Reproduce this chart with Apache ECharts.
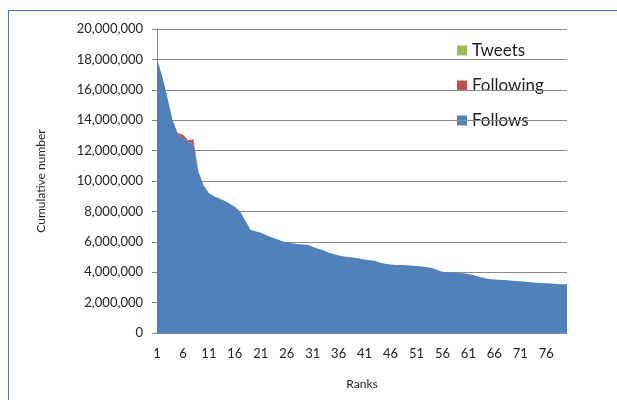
<!DOCTYPE html>
<html>
<head>
<meta charset="utf-8">
<script src="https://cdn.jsdelivr.net/npm/echarts@6/dist/echarts.min.js"></script>
<style>
  html, body { margin: 0; padding: 0; background: #fff; }
  #wrap { position: relative; width: 617px; height: 400px; overflow: hidden; }
  #chart { position: absolute; left: 0; top: 0; width: 617px; height: 400px; }
  #frameTop { position: absolute; left: 8px; top: 10px; width: 609px; height: 0; border-top: 1px solid #4a76c8; }
  #frameLeft { position: absolute; left: 8px; top: 10px; width: 0; height: 390px; border-left: 1px solid #4a76c8; }
</style>
</head>
<body>
<div id="wrap">
  <div id="chart"></div>
  <div id="frameTop"></div>
  <div id="frameLeft"></div>
</div>
<script>
// Ranks 1..80
var ranks = [];
for (var r = 1; r <= 80; r++) ranks.push(String(r));

// Cumulative follower counts by rank
var follows = [
  18000000, 16900000, 15500000, 14000000, 13100000, 12800000, 12600000, 12400000, 10600000, 9700000,
  9200000, 9000000, 8850000, 8700000, 8500000, 8300000, 8000000, 7400000, 6800000, 6700000,
  6600000, 6450000, 6300000, 6180000, 6050000, 5950000, 5900000, 5850000, 5830000, 5800000,
  5680000, 5550000, 5450000, 5300000, 5200000, 5100000, 5030000, 5000000, 4950000, 4900000,
  4830000, 4790000, 4750000, 4620000, 4560000, 4500000, 4480000, 4470000, 4450000, 4420000,
  4400000, 4370000, 4330000, 4280000, 4150000, 4030000, 4000000, 3980000, 3950000, 3930000,
  3880000, 3800000, 3700000, 3620000, 3550000, 3520000, 3500000, 3480000, 3450000, 3420000,
  3400000, 3370000, 3340000, 3310000, 3290000, 3270000, 3250000, 3230000, 3210000, 3200000
];

// Cumulative following counts, stacked on top of follows
var following = [
  0, 0, 0, 0, 50000, 250000, 80000, 350000, 0, 0,
  0, 0, 0, 0, 0, 0, 0, 0, 0, 0,
  0, 0, 0, 0, 0, 0, 0, 0, 0, 0,
  0, 0, 0, 0, 0, 0, 0, 0, 0, 0,
  0, 0, 0, 0, 0, 0, 0, 0, 0, 0,
  0, 0, 0, 0, 0, 0, 0, 0, 0, 0,
  0, 0, 0, 0, 0, 0, 0, 0, 0, 0,
  0, 0, 0, 0, 0, 0, 0, 0, 0, 0
];

// Cumulative tweet counts, stacked on top
var tweets = [
  0, 0, 0, 0, 0, 0, 0, 0, 0, 0,
  0, 0, 0, 0, 0, 0, 0, 0, 0, 0,
  0, 0, 0, 0, 0, 0, 0, 0, 0, 0,
  0, 0, 0, 0, 0, 0, 0, 0, 0, 0,
  0, 0, 0, 0, 0, 0, 0, 0, 0, 0,
  0, 0, 0, 0, 0, 0, 0, 0, 0, 0,
  0, 0, 0, 0, 0, 0, 0, 0, 0, 0,
  0, 0, 0, 0, 0, 0, 0, 0, 0, 0
];

var FONT = 'Lato, "Open Sans", sans-serif';
var chart = echarts.init(document.getElementById('chart'), null, { renderer: 'canvas' });

function areaSeries(name, data, color) {
  return {
    name: name,
    type: 'line',
    stack: 'total',
    data: data,
    showSymbol: false,
    symbol: 'none',
    smooth: false,
    lineStyle: { width: 0, color: color },
    itemStyle: { color: color },
    areaStyle: { color: color, opacity: 1 },
    emphasis: { disabled: true },
    animation: false
  };
}

chart.setOption({
  animation: false,
  backgroundColor: '#ffffff',
  grid: { left: 157, right: 50, top: 29, bottom: 67, containLabel: false },
  legend: {
    orient: 'vertical',
    left: 452,
    top: 37,
    z: 0,
    itemWidth: 10,
    itemHeight: 10,
    itemGap: 18,
    icon: 'rect',
    data: ['Tweets', 'Following', 'Follows'],
    textStyle: { fontFamily: FONT, fontSize: 17, color: '#222', padding: [0, 0, 0, 0] }
  },
  xAxis: {
    type: 'category',
    data: ranks,
    boundaryGap: false,
    name: 'Ranks',
    nameLocation: 'middle',
    nameGap: 45,
    nameTextStyle: { fontFamily: FONT, fontSize: 12, color: '#222' },
    axisLine: { lineStyle: { color: '#888', width: 1 } },
    axisTick: { show: false },
    axisLabel: { interval: 4, margin: 14, fontFamily: FONT, fontSize: 13, color: '#222' },
    splitLine: { show: false }
  },
  yAxis: {
    type: 'value',
    min: 0,
    max: 20000000,
    interval: 2000000,
    z: 1,
    name: 'Cumulative number',
    nameLocation: 'middle',
    nameGap: 110,
    nameTextStyle: { fontFamily: FONT, fontSize: 12, color: '#222' },
    axisLine: { show: true, lineStyle: { color: '#888', width: 1 } },
    axisTick: { show: true, length: 5, lineStyle: { color: '#888' } },
    axisLabel: {
      margin: 14,
      fontFamily: FONT,
      fontSize: 13,
      color: '#222',
      formatter: function (v) { return v.toLocaleString('en-US'); }
    },
    splitLine: { show: true, lineStyle: { color: '#8a8a8a', width: 1 } }
  },
  series: [
    areaSeries('Follows', follows, '#4f81bd'),
    areaSeries('Following', following, '#c0504d'),
    areaSeries('Tweets', tweets, '#9bbb59')
  ]
});
</script>
</body>
</html>
